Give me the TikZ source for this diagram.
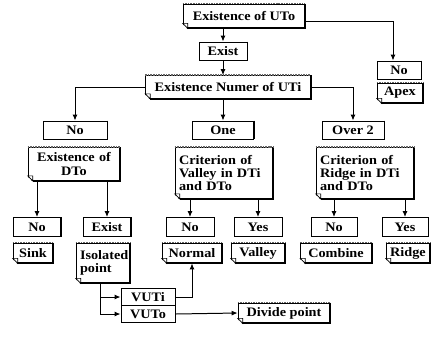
\documentclass[tikz,border=0pt]{standalone}
\usepackage{fontspec}
\setmainfont[FakeStretch=1.1]{Liberation Serif}
\usetikzlibrary{arrows.meta,positioning}
\tikzset{
  % all labels bold serif
  every node/.append style={font=\fontsize{13}{13.5}\selectfont\bfseries},
  % plain condition box
  cond/.style={draw, line width=0.9pt, inner sep=0pt, minimum height=18bp},
  % document box (question / result)
  doc/.style={draw, line width=0.7pt, inner xsep=4bp, inner ysep=2bp, minimum height=20bp},
  docedge/.style={line width=1.8pt},
  doctop/.style={line width=1.6pt, densely dotted, black!60},
  % connectors
  arr/.style={-{Latex[length=6bp,width=5bp]}, line width=1pt},
  lin/.style={line width=1pt},
}
\begin{document}
\begin{tikzpicture}[x=1bp,y=-1bp]
  \fill[white] (0,0) rectangle (434,338);
  \useasboundingbox (0,0) rectangle (434,338);

  % top part
  \node[doc, minimum width=122bp, minimum height=24bp] (uto) at (244,16) {Existence of UTo};
  \node[cond, minimum width=48bp] (exist) at (223,51) {Exist};
  \node[cond, minimum width=44bp] (noapex) at (399,70) {No};
  \node[doc, minimum width=46bp] (apex) at (400,93) {Apex};
  \node[doc, minimum width=165bp, minimum height=23bp] (numuti) at (228,87) {Existence Numer of UTi};

  % second level
  \node[cond, minimum width=64bp] (nouti) at (75,130) {No};
  \node[cond, minimum width=61bp] (one) at (223,130) {One};
  \node[cond, minimum width=62bp] (over) at (353,130) {Over 2};
  \node[doc, text width=84bp, align=center, minimum height=33bp] (dto) at (74,164) {Existence of\\DTo};
  \node[doc, text width=90bp, align=left, minimum height=51bp] (valcrit) at (224,173) {Criterion of\\Valley in DTi\\and DTo};
  \node[doc, text width=90bp, align=left, minimum height=51bp] (ridcrit) at (365,173) {Criterion of\\Ridge in DTi\\and DTo};

  % third level
  \node[cond, minimum width=47bp, minimum height=19bp] (nodto) at (37,227) {No};
  \node[cond, minimum width=47bp, minimum height=19bp] (exdto) at (107,227) {Exist};
  \node[cond, minimum width=48bp, minimum height=19bp] (noval) at (190,227) {No};
  \node[cond, minimum width=48bp, minimum height=19bp] (yesval) at (258,227) {Yes};
  \node[cond, minimum width=46bp, minimum height=19bp] (norid) at (334,227) {No};
  \node[cond, minimum width=46bp, minimum height=19bp] (yesrid) at (405,227) {Yes};

  % results
  \node[doc, minimum width=40bp] (sink) at (33,253) {Sink};
  \node[doc, text width=46bp, align=left, minimum height=40bp] (isol) at (103,263) {Isolated\\point\\[-2bp]};
  \node[doc, minimum width=60bp] (normal) at (192,253) {Normal};
  \node[doc, minimum width=54bp] (valley) at (258,253) {Valley};
  \node[doc, minimum width=71bp] (combine) at (336,253) {Combine};
  \node[doc, minimum width=44bp] (ridge) at (408,253) {Ridge};
  \node[cond, minimum width=54bp, minimum height=17bp] (vuti) at (148,297) {VUTi};
  \node[cond, minimum width=54bp, minimum height=17bp] (vuto) at (148,314) {VUTo};
  \node[doc, minimum width=92bp] (divide) at (284,313) {Divide point};

  % folded corner, heavy right/bottom edge
  \foreach \n in {uto,apex,numuti,dto,valcrit,ridcrit,sink,isol,normal,valley,combine,ridge,divide}{
    \fill[white] ([xshift=-1bp,yshift=-1bp]\n.south west) -- ([xshift=-1bp,yshift=5bp]\n.south west)
      -- ([xshift=5bp,yshift=-1bp]\n.south west) -- cycle;
    \draw[line width=0.7pt] ([yshift=5bp]\n.south west) -- ([xshift=5bp,yshift=5bp]\n.south west)
      -- ([xshift=5bp]\n.south west) -- cycle;
    \draw[docedge] (\n.north east) -- (\n.south east) -- ([xshift=5bp]\n.south west);
    \draw[doctop] (\n.north west) -- (\n.north east);
  }
  \foreach \n in {exist,noapex,nouti,one,over,nodto,exdto,noval,yesval,norid,yesrid,vuti,vuto}
    \draw[line width=1.4pt] (\n.north east) -- (\n.south east);

  % connectors
  \draw[arr] (exist |- uto.south) -- (exist.north);
  \draw[arr] ([yshift=-5bp]uto.east) -| ([xshift=-6bp]noapex.north);
  \draw[arr] (exist.south) -- (exist |- numuti.north);
  \draw[arr] (numuti.west) -| (nouti.north);
  \draw[arr] (one |- numuti.south) -- (one.north);
  \draw[arr] (numuti.east) -| (over.north);
  \draw[arr] (nodto |- dto.south) -- (nodto.north);
  \draw[arr] (exdto |- dto.south) -- (exdto.north);
  \draw[arr] (noval |- valcrit.south) -- (noval.north);
  \draw[arr] (yesval |- valcrit.south) -- (yesval.north);
  \draw[arr] (norid |- ridcrit.south) -- (norid.north);
  \draw[arr] (yesrid |- ridcrit.south) -- (yesrid.north);
  \draw[lin] ([xshift=-3bp]isol.south) -- ([xshift=-3bp]isol.south |- vuto.west);
  \draw[arr] ([xshift=-3bp]isol.south |- vuti.west) -- (vuti.west);
  \draw[arr] ([xshift=-3bp]isol.south |- vuto.west) -- (vuto.west);
  \draw[arr] (vuti.east) -| (normal.south);
  \draw[arr] (vuto.east) -- (divide.west);
\end{tikzpicture}
\end{document}
